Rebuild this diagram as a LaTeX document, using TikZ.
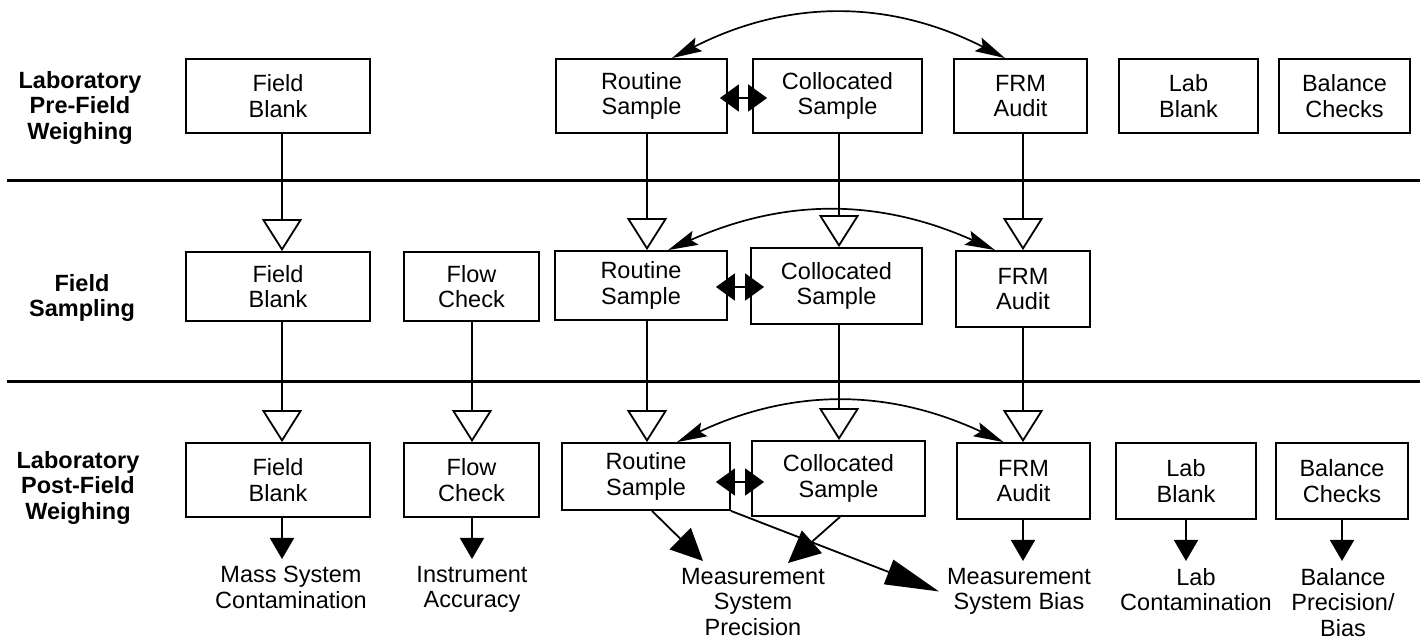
\documentclass[tikz,border=0pt]{standalone}
\usepackage{fontspec}
\setmainfont{Liberation Sans}
\usetikzlibrary{arrows.meta}
\newcommand{\myboxfont}{\fontsize{23.5}{25.5}\selectfont}
\begin{document}
\begin{tikzpicture}[x=1pt,y=1pt,
  box/.style={draw, line width=1.8pt, inner sep=0pt, align=center, font=\myboxfont},
  rowlbl/.style={inner sep=0pt, align=center, anchor=north, font=\myboxfont\bfseries},
  reslbl/.style={inner xsep=0pt, inner ysep=7pt, align=center, anchor=north, font=\myboxfont},
  openarr/.style={line width=1.8pt, -{Triangle[open, length=32pt, width=40pt]}},
  solarr/.style={line width=1.8pt, -{Triangle[length=21pt, width=24pt]}},
  bigarr/.style={line width=1.8pt, -{Triangle[length=32pt, width=30pt]}},
  longarr/.style={line width=1.8pt, -{Triangle[length=54pt, width=26pt]}},
  dblarr/.style={line width=1.8pt, {Triangle[length=19pt, width=27pt]}-{Triangle[length=19pt, width=27pt]}},
  curvarr/.style={line width=1.7pt, {Stealth[length=30pt, width=15pt, inset=5pt]}-{Stealth[length=30pt, width=15pt, inset=5pt]}},
  sepline/.style={line width=3pt}
]
\useasboundingbox (0,0) rectangle (1428,640);

% separator lines
\draw[sepline] (7,459) -- (1420,459);
\draw[sepline] (7,258) -- (1420,258);

% row labels
\node[rowlbl] (l1) at (80,569) {Laboratory\\Pre-Field\\Weighing};
\node[rowlbl] (l2) at (82,366) {Field\\Sampling};
\node[rowlbl] (l3) at (78,189) {Laboratory\\Post-Field\\Weighing};

% row 1
\node[box, minimum width=184pt, minimum height=74pt] (fb1) at (278,544) {Field\\Blank};
\node[box, minimum width=171pt, minimum height=74pt] (rs1) at (641.5,544) {Routine\\Sample};
\node[box, minimum width=169pt, minimum height=74pt] (cs1) at (837.5,544) {Collocated\\Sample};
\node[box, minimum width=133pt, minimum height=74pt] (frm1) at (1020.5,544) {FRM\\Audit};
\node[box, minimum width=139pt, minimum height=74pt] (lb1) at (1188.5,544) {Lab\\Blank};
\node[box, minimum width=131pt, minimum height=74pt] (bc1) at (1344.5,544) {Balance\\Checks};

% row 2
\node[box, minimum width=184pt, minimum height=69pt] (fb2) at (278,353.5) {Field\\Blank};
\node[box, minimum width=135pt, minimum height=69pt] (fc2) at (471.5,353.5) {Flow\\Check};
\node[box, minimum width=172pt, minimum height=69pt] (rs2) at (641,354.5) {Routine\\Sample};
\node[box, minimum width=171pt, minimum height=76pt] (cs2) at (836.5,354) {Collocated\\Sample};
\node[box, minimum width=134pt, minimum height=76pt] (frm2) at (1023,351) {FRM\\Audit};

% row 3
\node[box, minimum width=184pt, minimum height=74pt] (fb3) at (278,160) {Field\\Blank};
\node[box, minimum width=135pt, minimum height=74pt] (fc3) at (471.5,160) {Flow\\Check};
\node[box, minimum width=168pt, minimum height=67pt] (rs3) at (646,163.5) {Routine\\Sample};
\node[box, minimum width=173pt, minimum height=75pt] (cs3) at (838.5,161.5) {Collocated\\Sample};
\node[box, minimum width=133pt, minimum height=76pt] (frm3) at (1023.5,159) {FRM\\Audit};
\node[box, minimum width=140pt, minimum height=76pt] (lb3) at (1186,159) {Lab\\Blank};
\node[box, minimum width=132pt, minimum height=76pt] (bc3) at (1342,159) {Balance\\Checks};

% result labels
\node[reslbl] (msc) at (291,81) {Mass System\\Contamination};
\node[reslbl] (ia) at (472,81) {Instrument\\Accuracy};
\node[reslbl] (msp) at (753,79) {Measurement\\System\\Precision};
\node[reslbl] (msb) at (1019,79) {Measurement\\System Bias};
\node[reslbl] (lc) at (1196,79) {Lab\\Contamination};
\node[reslbl] (bpb) at (1343,79) {Balance\\Precision/\\Bias};

% column coordinates
\coordinate (fbx) at (282,0);
\coordinate (fcx) at (472,0);
\coordinate (rsx) at (647,0);
\coordinate (csx) at (839,0);
\coordinate (frx) at (1023,0);

% open-triangle flow arrows
\draw[openarr] (fbx |- fb1.south) -- (fbx |- fb2.north);
\draw[openarr] (fbx |- fb2.south) -- (fbx |- fb3.north);
\draw[openarr] (fcx |- fc2.south) -- (fcx |- fc3.north);
\draw[openarr] (rsx |- rs1.south) -- (rsx |- rs2.north);
\draw[openarr] (rsx |- rs2.south) -- (rsx |- rs3.north);
\draw[openarr] (csx |- cs1.south) -- (csx |- cs2.north);
\draw[openarr] (csx |- cs2.south) -- (csx |- cs3.north);
\draw[openarr] (frx |- frm1.south) -- (frx |- frm2.north);
\draw[openarr] (frx |- frm2.south) -- (frx |- frm3.north);

% double arrows
\draw[dblarr] ([xshift=-8pt,yshift=-2pt]rs1.east) -- ([xshift=15pt,yshift=-2pt]cs1.west);
\draw[dblarr] ([xshift=-12pt,yshift=-1.5pt]rs2.east) -- ([xshift=14pt,yshift=-1pt]cs2.west);
\draw[dblarr] ([xshift=-15pt,yshift=-5.5pt]rs3.east) -- ([xshift=13pt,yshift=-3.5pt]cs3.west);

% curved arrows
\draw[curvarr] ([xshift=30.5pt]rs1.north) to[out=27,in=153] ([xshift=-15.5pt]frm1.north);
\draw[curvarr] ([xshift=27pt]rs2.north) to[out=24,in=156] ([xshift=-28pt]frm2.north);
\draw[curvarr] ([xshift=31pt]rs3.north) to[out=25,in=155] ([xshift=-20pt]frm3.north);

% result arrows
\draw[solarr] (fbx |- fb3.south) -- (fbx |- msc.north);
\draw[solarr] (fcx |- fc3.south) -- (fcx |- ia.north);
\draw[solarr] (frx |- frm3.south) -- (frx |- msb.north);
\draw[solarr] (lb3.south) -- (lb3.south |- lc.north);
\draw[solarr] (bc3.south) -- (bc3.south |- bpb.north);
\draw[bigarr] ([xshift=6pt]rs3.south) -- ([xshift=-50pt]msp.north);
\draw[bigarr] ([xshift=1.5pt]cs3.south) -- ([xshift=35pt,yshift=-2pt]msp.north);
\draw[longarr] (rs3.south east) -- ([xshift=-8pt]msb.west);
\end{tikzpicture}
\end{document}
